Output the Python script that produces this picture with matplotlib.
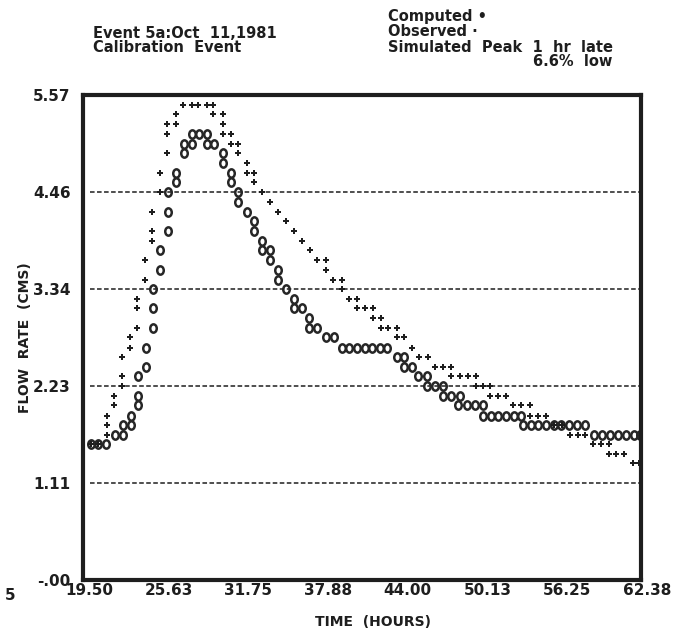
#!/usr/bin/env python3
# Line-printer style hydrograph: Event 5a, Oct 11 1981 (calibration event)

import matplotlib
matplotlib.use("Agg")
import matplotlib.pyplot as plt
from matplotlib.path import Path
from matplotlib.transforms import Affine2D

plt.rcParams['font.family'] = ['DejaVu Sans']
plt.rcParams['font.weight'] = 'bold'

INK = '#1e1e1e'

# observed flow (+ marks), time in hours, flow in cms
obs_time = [19.65, 20.21, 20.86, 20.86, 20.86, 21.44, 21.44, 22.01, 22.01, 22.01,
            22.65, 22.65, 23.21, 23.21, 23.21, 23.80, 23.80, 24.36, 24.36, 24.36,
            24.96, 24.96, 25.52, 25.52, 25.52, 26.19, 26.19, 26.75, 27.39, 27.90,
            28.55, 29.05, 29.05, 29.77, 29.77, 29.77, 30.39, 30.39, 30.97, 30.97,
            31.62, 31.62, 32.18, 32.18, 32.82, 33.41, 34.05, 34.64, 35.25, 35.85,
            36.48, 37.04, 37.69, 37.69, 38.27, 38.92, 38.92, 39.50, 40.12, 40.12,
            40.71, 41.35, 41.35, 41.92, 41.92, 42.50, 43.15, 43.15, 43.71, 44.30,
            44.88, 45.53, 46.09, 46.73, 47.37, 47.37, 48.01, 48.65, 49.24, 49.24,
            49.78, 50.32, 50.32, 50.95, 51.60, 52.11, 52.74, 53.39, 53.39, 54.03,
            54.67, 55.23, 55.85, 56.46, 57.06, 57.62, 58.26, 58.85, 59.46, 59.46,
            60.05, 60.64, 61.33, 61.77]
obs_flow = [1.56, 1.56, 1.67, 1.78, 1.89, 2.01, 2.12, 2.23, 2.34, 2.56,
            2.67, 2.79, 2.90, 3.12, 3.23, 3.45, 3.68, 3.90, 4.01, 4.23,
            4.46, 4.68, 4.90, 5.12, 5.24, 5.24, 5.35, 5.46, 5.46, 5.46,
            5.46, 5.46, 5.35, 5.35, 5.24, 5.12, 5.12, 5.01, 5.01, 4.90,
            4.79, 4.68, 4.68, 4.57, 4.46, 4.34, 4.23, 4.12, 4.01, 3.90,
            3.79, 3.68, 3.68, 3.56, 3.45, 3.45, 3.34, 3.23, 3.23, 3.12,
            3.12, 3.12, 3.01, 3.01, 2.90, 2.90, 2.90, 2.79, 2.79, 2.67,
            2.56, 2.56, 2.45, 2.45, 2.45, 2.34, 2.34, 2.34, 2.34, 2.23,
            2.23, 2.23, 2.12, 2.12, 2.12, 2.01, 2.01, 2.01, 1.89, 1.89,
            1.89, 1.78, 1.78, 1.67, 1.67, 1.67, 1.56, 1.56, 1.56, 1.45,
            1.45, 1.45, 1.34, 1.34]

# computed flow (o marks)
comp_time = [19.65, 20.21, 20.81, 21.50, 22.09, 22.09, 22.70, 22.70, 23.29, 23.29,
             23.29, 23.86, 23.86, 24.44, 24.44, 24.44, 24.96, 24.96, 25.59, 25.59,
             25.59, 26.19, 26.19, 26.80, 26.80, 27.39, 27.39, 27.95, 28.55, 28.55,
             29.13, 29.82, 29.82, 30.39, 30.39, 30.97, 30.97, 31.62, 32.20, 32.20,
             32.82, 32.82, 33.41, 33.41, 34.05, 34.05, 34.64, 35.25, 35.25, 35.85,
             36.43, 36.43, 37.00, 37.71, 38.33, 38.92, 39.50, 40.10, 40.69, 41.27,
             41.86, 42.45, 43.15, 43.71, 43.71, 44.30, 44.81, 45.45, 45.45, 46.09,
             46.73, 46.73, 47.37, 48.01, 47.88, 48.53, 49.16, 49.80, 49.80, 50.39,
             50.97, 51.55, 52.16, 52.74, 52.85, 53.47, 54.03, 54.62, 55.23, 55.81,
             56.39, 57.00, 57.62, 58.31, 58.92, 59.54, 60.15, 60.77, 61.38, 61.84]
comp_flow = [1.56, 1.56, 1.56, 1.67, 1.67, 1.78, 1.78, 1.89, 2.01, 2.12,
             2.34, 2.45, 2.67, 2.90, 3.12, 3.34, 3.56, 3.79, 4.01, 4.23,
             4.46, 4.57, 4.68, 4.90, 5.01, 5.01, 5.12, 5.12, 5.12, 5.01,
             5.01, 4.90, 4.79, 4.68, 4.57, 4.46, 4.34, 4.23, 4.12, 4.01,
             3.90, 3.79, 3.79, 3.68, 3.56, 3.45, 3.34, 3.23, 3.12, 3.12,
             3.01, 2.90, 2.90, 2.79, 2.79, 2.67, 2.67, 2.67, 2.67, 2.67,
             2.67, 2.67, 2.56, 2.56, 2.45, 2.45, 2.34, 2.34, 2.23, 2.23,
             2.23, 2.12, 2.12, 2.12, 2.01, 2.01, 2.01, 2.01, 1.89, 1.89,
             1.89, 1.89, 1.89, 1.89, 1.78, 1.78, 1.78, 1.78, 1.78, 1.78,
             1.78, 1.78, 1.78, 1.67, 1.67, 1.67, 1.67, 1.67, 1.67, 1.67]

xtick_vals = [19.50, 25.63, 31.75, 37.88, 44.00, 50.13, 56.25, 62.38]
ytick_vals = [0.0, 1.11, 2.23, 3.34, 4.46, 5.57]
ytick_labels = ['-.00', '1.11', '2.23', '3.34', '4.46', '5.57']
grid_vals = [1.11, 2.23, 3.34, 4.46]

fig = plt.figure(figsize=(6.86, 6.34), dpi=100)
ax = fig.add_axes([0.121, 0.085, 0.813, 0.765])
ax.set_xlim(19.04, 61.92)
ax.set_ylim(0, 5.57)

for g in grid_vals:
    ax.axhline(g, xmin=0.012, xmax=1, color=INK, lw=1.1, dashes=(3.0, 1.6), zorder=1)

# printer "0" glyph: a slightly tall ellipse
oval = Path.unit_circle().transformed(Affine2D().scale(0.78, 1.0))

ax.plot(obs_time, obs_flow, ls='none', marker='P', ms=4.6, color=INK, mew=0, zorder=3)
ax.plot(comp_time, comp_flow, ls='none', marker=oval, ms=6.0, mfc='none',
        mec='#262626', mew=1.8, zorder=2)

for s in ax.spines.values():
    s.set_linewidth(3)
    s.set_color(INK)

ax.set_xticks([])
ax.set_yticks(ytick_vals)
ax.set_yticklabels(ytick_labels)
ax.tick_params(axis='y', length=0, pad=9, labelsize=11, labelcolor=INK)

for v in xtick_vals:
    ax.text(v, -0.022, f"{v:.2f}", transform=ax.get_xaxis_transform(),
            ha='center', va='center', fontsize=11, color=INK, clip_on=False)

ax.text(0.52, -0.087, 'TIME  (HOURS)', transform=ax.transAxes, ha='center',
        va='center', fontsize=10, fontweight='bold', color=INK)
ax.set_ylabel('FLOW  RATE  (CMS)', fontsize=10, fontweight='bold', color=INK)
ax.yaxis.set_label_coords(-0.092, 0.5)

# header notes
hdr = dict(fontsize=10.5, color=INK, va='center', fontweight='bold')
fig.text(93 / 686, 1 - 34 / 634, 'Event 5a:Oct  11,1981', **hdr)
fig.text(93 / 686, 1 - 48 / 634, 'Calibration  Event', **hdr)
fig.text(388 / 686, 1 - 17 / 634, 'Computed \u2022', **hdr)
fig.text(388 / 686, 1 - 32 / 634, 'Observed \u00b7', **hdr)
fig.text(388 / 686, 1 - 47 / 634, 'Simulated  Peak  1  hr  late', **hdr)
fig.text(612 / 686, 1 - 62 / 634, '6.6%  low', ha='right', **hdr)
fig.text(5 / 686, 1 - 596 / 634, '5', fontsize=11, color=INK, va='center')

fig.savefig('out.png', dpi=100, facecolor='white')
